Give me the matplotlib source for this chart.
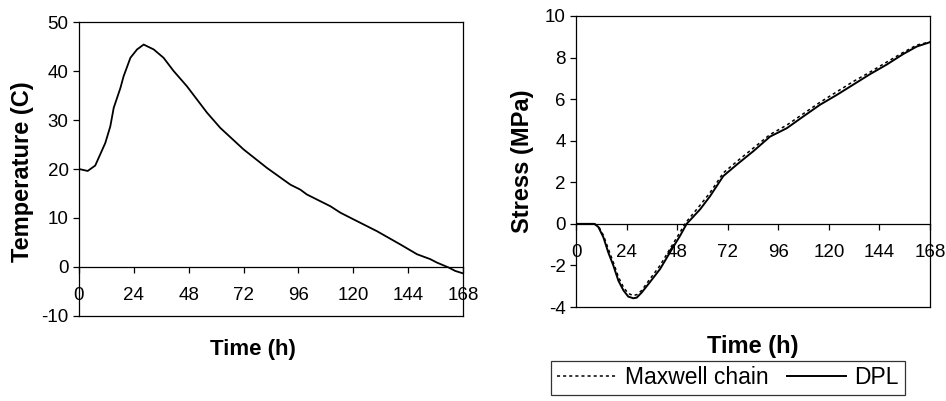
import numpy as np
import matplotlib.pyplot as plt

plt.rcParams['font.family'] = ['Liberation Sans', 'DejaVu Sans']
plt.rcParams['axes.unicode_minus'] = False

# temperature history (left panel)
t_temp = [0, 3.8, 7.1, 9.3, 11.5, 13.7, 15.2, 18.1, 19.5, 22.5, 25.4, 28.3, 32.7, 37,
          41.4, 47.2, 56, 61.8, 72, 82.3, 92.5, 96.8, 99.7, 110, 114.3, 120.2, 130.4,
          140.6, 147.9, 153.7, 156.6, 161.7, 164.6, 168]
temp = [20, 19.6, 20.7, 23, 25.3, 28.7, 32.5, 36.5, 38.9, 42.7, 44.4, 45.4, 44.4, 42.7,
        40, 36.9, 31.5, 28.4, 24, 20.2, 16.8, 15.8, 14.8, 12.4, 11.1, 9.7, 7.3,
        4.6, 2.6, 1.6, 0.9, -0.1, -0.8, -1.3]

# stress histories (right panel)
t_dpl = [0, 8.7, 10.6, 13, 15.3, 17.7, 20.1, 22.5, 24.8, 27.2, 28.8, 31.2, 35.1, 39.9,
         44.6, 49.4, 52.5, 58.9, 63.6, 69.9, 76.3, 84.2, 92.1, 100, 107.9, 115.8, 123.7,
         131.6, 139.5, 147.4, 155.3, 161.7, 168]
s_dpl = [0, 0, -0.15, -0.65, -1.37, -2.0, -2.73, -3.2, -3.5, -3.58, -3.55, -3.3, -2.8, -2.17,
         -1.37, -0.57, 0, 0.7, 1.33, 2.3, 2.85, 3.5, 4.2, 4.6, 5.17, 5.73, 6.2,
         6.7, 7.2, 7.66, 8.17, 8.53, 8.74]
t_max = [0, 8.7, 10.6, 13, 15.3, 17.7, 20.1, 22.5, 24.8, 27.2, 29, 31.2, 35.1, 39.9,
         44.6, 49.4, 52, 58.9, 63.6, 69.9, 76.3, 84.2, 92.1, 100, 107.9, 115.8, 123.7,
         131.6, 139.5, 147.4, 155.3, 161.7, 168]
s_max = [0, 0, -0.1, -0.55, -1.2, -1.85, -2.55, -3.05, -3.35, -3.45, -3.4, -3.2, -2.65, -2.0,
         -1.2, -0.4, 0.05, 0.9, 1.5, 2.45, 3.0, 3.65, 4.3, 4.75, 5.3, 5.85, 6.35,
         6.85, 7.3, 7.78, 8.25, 8.6, 8.75]

x_ticks = [0, 24, 48, 72, 96, 120, 144, 168]

fig = plt.figure(figsize=(9.46, 4.01), dpi=100)
ax1 = fig.add_axes([0.0835, 0.2120, 0.4059, 0.7331])
ax2 = fig.add_axes([0.6089, 0.2344, 0.3742, 0.7257])


def style(ax, ylim, yticks):
    ax.set_xlim(0, 168)
    ax.set_ylim(*ylim)
    ax.set_xticks(x_ticks)
    ax.set_yticks(yticks)
    for s in ax.spines.values():
        s.set_linewidth(0.9)
    # x axis crosses at zero like the spreadsheet original
    ax.spines['bottom'].set_position(('data', 0))
    ax.axhline(ylim[0], color='k', lw=0.9, clip_on=False)
    ax.tick_params(axis='x', direction='out', length=4.5, width=0.9, pad=10,
                   labelsize=13.5)
    ax.tick_params(axis='y', direction='out', length=4.5, width=0.9, pad=3,
                   labelsize=13.5)


ax1.plot(t_temp, temp, color='k', lw=1.3)
style(ax1, (-10, 50), [-10, 0, 10, 20, 30, 40, 50])
for lab in ax1.get_xticklabels():
    lab.set_clip_on(False)

ax2.plot(t_max, s_max, color='k', lw=1.1, ls=(0, (2, 2)), label='Maxwell chain')
ax2.plot(t_dpl, s_dpl, color='k', lw=1.4, label='DPL')
style(ax2, (-4, 10), [-4, -2, 0, 2, 4, 6, 8, 10])

W, H = 946, 401
fig.text(23 / W, 1 - 172 / H, 'Temperature (C)', rotation=90, ha='center', va='center',
         fontsize=17, fontweight='bold')
fig.text(522 / W, 1 - 161 / H, 'Stress (MPa)', rotation=90, ha='center', va='center',
         fontsize=17, fontweight='bold')
fig.text(253 / W, 1 - 350 / H, 'Time (h)', ha='center', va='center',
         fontsize=16, fontweight='bold')
fig.text(753 / W, 1 - 347 / H, 'Time (h)', ha='center', va='center',
         fontsize=17, fontweight='bold')

leg = fig.legend(loc='center', bbox_to_anchor=(728 / W, 1 - 378 / H), ncol=2,
                 fontsize=16.5, frameon=True, fancybox=False, handlelength=2.6,
                 handletextpad=0.35, columnspacing=0.8, borderpad=0.25)
leg.get_frame().set_edgecolor('k')
leg.get_frame().set_linewidth(0.9)

fig.savefig('out.png', dpi=100)
